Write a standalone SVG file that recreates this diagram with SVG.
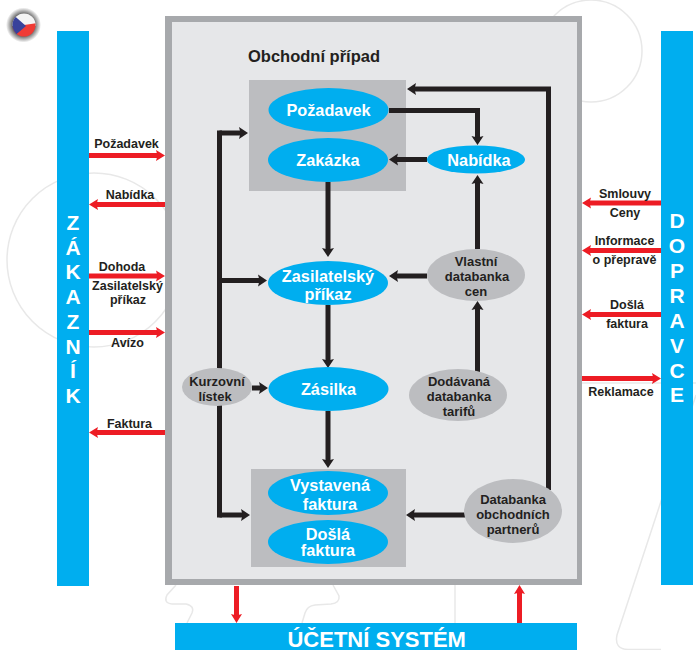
<svg xmlns="http://www.w3.org/2000/svg" width="696" height="650" viewBox="0 0 696 650">
<style>
text{font-family:"Liberation Sans",Arial,sans-serif;font-weight:bold;text-anchor:middle}
.bg{fill:none;stroke:#e8e8e8;stroke-width:1.5}
.bar{fill:#00aeef}
.v{fill:#fff;font-size:21px}
.blue{fill:#00aeef}
.grey{fill:#bcbdc0}
.nb{fill:#fff;font-size:16.300px}
.ng{fill:#231f20;font-size:13px}
.lb{fill:#231f20;font-size:12.500px}
.k{fill:none;stroke:#231f20;stroke-width:5;marker-end:url(#ah)}
.kn{fill:none;stroke:#231f20;stroke-width:5}
.r{fill:none;stroke:#ed1c24;stroke-width:5;marker-end:url(#rh)}
</style>
<defs>
<marker id="ah" markerUnits="userSpaceOnUse" markerWidth="10" markerHeight="13" viewBox="0 0 10 13" refX="3" refY="6.5" orient="auto"><path d="M0 .5L9 6.5L0 12.5L1.5 6.5Z" fill="#231f20"/></marker>
<marker id="rh" markerUnits="userSpaceOnUse" markerWidth="10" markerHeight="13" viewBox="0 0 10 13" refX="3" refY="6.5" orient="auto"><path d="M0 1L9 6.5L0 12L1.5 6.5Z" fill="#ed1c24"/></marker>
<radialGradient id="halo"><stop offset=".6" stop-color="#555"/><stop offset=".75" stop-color="#999"/><stop offset="1" stop-color="#fff"/></radialGradient>
<clipPath id="fc"><circle cx="24" cy="25" r="11.500"/></clipPath>
<filter id="soft" x="-20%" y="-20%" width="140%" height="140%"><feGaussianBlur stdDeviation="0.5"/></filter>
</defs>
<g id="background">
<circle class="bg" cx="94" cy="260" r="87"/>
<circle class="bg" cx="591" cy="51" r="51"/>
<path class="bg" d="M176 585L167 595Q163 603 172 604L186 604Q195 606 192 613L187 623"/>
<path class="bg" d="M333 585L339 596Q340 603 331 604L315 605Q307 606 305 613L302 623"/>
<path class="bg" d="M455 585V623"/>
<path class="bg" d="M582 383H696"/>
<path class="bg" d="M696 395L617 635Q614 649 628 649.500H661"/>
</g>
<g id="flag" filter="url(#soft)">
<circle cx="23.500" cy="25" r="17.500" fill="url(#halo)"/>
<g clip-path="url(#fc)">
<rect x="11" y="13" width="26" height="13" fill="#f4f4f4"/>
<path d="M11 27L37 23V38H11Z" fill="#ef3b36"/>
<path d="M11 13L26 26L12 38Z" fill="#39429b"/>
</g>
</g>
<g id="zakaznik">
<rect class="bar" x="57" y="31" width="32" height="555"/>
<text class="v" x="73" y="230">Z</text><text class="v" x="73" y="255">Á</text><text class="v" x="73" y="279">K</text><text class="v" x="73" y="304">A</text><text class="v" x="73" y="329">Z</text><text class="v" x="73" y="354">N</text><text class="v" x="73" y="378">Í</text><text class="v" x="73" y="403">K</text>
</g>
<g id="dopravce">
<rect class="bar" x="661" y="31" width="32" height="554"/>
<text class="v" x="677" y="228">D</text><text class="v" x="677" y="253">O</text><text class="v" x="677" y="278">P</text><text class="v" x="677" y="303">R</text><text class="v" x="677" y="328">A</text><text class="v" x="677" y="353">V</text><text class="v" x="677" y="378">C</text><text class="v" x="677" y="402">E</text>
</g>
<g id="ucetni-system">
<rect class="bar" x="175" y="623" width="402" height="27"/>
<text x="376.700" y="646.500" fill="#fff" font-size="22">ÚČETNÍ SYSTÉM</text>
</g>
<g id="obchodni-pripad">
<rect x="165" y="16" width="417" height="569" fill="#a7a9ac"/>
<rect x="172" y="22" width="405" height="557" fill="#e6e7e9"/>
<text x="314" y="62" fill="#231f20" font-size="16.500">Obchodní případ</text>
</g>
<g id="box-top"><rect class="grey" x="249" y="80" width="157" height="111"/></g>
<g id="box-bottom"><rect class="grey" x="251" y="469" width="155" height="98"/></g>
<g id="connectors">
<path class="k" d="M389 110.500H477.500V139"/>
<path class="k" d="M427 159.500H395"/>
<path class="k" d="M477.500 249V181"/>
<path class="k" d="M427 276H395"/>
<path class="k" d="M328 182V251"/>
<path class="k" d="M328 305V362"/>
<path class="k" d="M328 411V462"/>
<path class="k" d="M477.500 372V307"/>
<path class="k" d="M465 515H412"/>
<path class="k" d="M548.500 490V89H413"/>
<path class="k" d="M219.500 515H244"/>
<path class="k" d="M219.500 133H242"/>
<path class="kn" d="M219.500 130.500V517.500"/>
<path class="k" d="M219.500 280.500H261"/>
<path class="k" d="M252 388H262"/>
<path class="r" d="M89 155.500H159"/>
<path class="r" d="M165 204.500H95"/>
<path class="r" d="M89 276H159"/>
<path class="r" d="M89 332.500H159"/>
<path class="r" d="M165 432.500H95"/>
<path class="r" d="M661 203H588"/>
<path class="r" d="M661 250.500H588"/>
<path class="r" d="M661 314.500H588"/>
<path class="r" d="M582 378.500H655"/>
<path class="r" d="M236.500 586V617"/>
<path class="r" d="M519.500 623V591"/>
</g>
<g id="labels">
<text class="lb" x="126.500" y="148">Požadavek</text>
<text class="lb" x="130" y="199">Nabídka</text>
<text class="lb" x="122" y="271">Dohoda</text>
<text class="lb" x="127.500" y="290">Zasilatelský</text>
<text class="lb" x="128" y="304">příkaz</text>
<text class="lb" x="127.500" y="347">Avízo</text>
<text class="lb" x="129.500" y="428">Faktura</text>
<text class="lb" x="625" y="198">Smlouvy</text>
<text class="lb" x="625" y="217">Ceny</text>
<text class="lb" x="624.500" y="245">Informace</text>
<text class="lb" x="624.500" y="264">o přepravě</text>
<text class="lb" x="627" y="309">Došlá</text>
<text class="lb" x="627" y="328">faktura</text>
<text class="lb" x="621" y="396">Reklamace</text>
</g>
<g id="pozadavek"><ellipse class="blue" cx="328.500" cy="110" rx="60" ry="22"/><text class="nb" x="328.500" y="116">Požadavek</text></g>
<g id="zakazka"><ellipse class="blue" cx="328" cy="160" rx="60" ry="22"/><text class="nb" x="328" y="165.500">Zakázka</text></g>
<g id="nabidka"><ellipse class="blue" cx="476" cy="159.500" rx="49" ry="14"/><text class="nb" x="479" y="166">Nabídka</text></g>
<g id="zasilatelsky-prikaz"><ellipse class="blue" cx="328" cy="283" rx="60" ry="22"/><text class="nb" x="328" y="282">Zasilatelský</text><text class="nb" x="328" y="300">příkaz</text></g>
<g id="vlastni-databanka"><ellipse class="grey" cx="476" cy="275" rx="49" ry="26"/><text class="ng" x="476" y="266">Vlastní</text><text class="ng" x="477" y="281">databanka</text><text class="ng" x="476" y="296">cen</text></g>
<g id="kurzovni-listek"><ellipse class="grey" cx="217" cy="387" rx="35" ry="19"/><text class="ng" x="217" y="386">Kurzovní</text><text class="ng" x="215" y="401">lístek</text></g>
<g id="zasilka"><ellipse class="blue" cx="328.500" cy="389" rx="60" ry="22"/><text class="nb" x="328.500" y="395">Zásilka</text></g>
<g id="dodavana-databanka"><ellipse class="grey" cx="458" cy="395" rx="49" ry="26"/><text class="ng" x="459" y="386">Dodávaná</text><text class="ng" x="459" y="401">databanka</text><text class="ng" x="459" y="416">tarifů</text></g>
<g id="vystavena-faktura"><ellipse class="blue" cx="328" cy="493" rx="60" ry="22"/><text class="nb" x="330" y="491">Vystavená</text><text class="nb" x="330" y="510">faktura</text></g>
<g id="dosla-faktura"><ellipse class="blue" cx="328" cy="542" rx="60" ry="22"/><text class="nb" x="328" y="540">Došlá</text><text class="nb" x="328" y="556">faktura</text></g>
<g id="databanka-partneru"><ellipse class="grey" cx="513" cy="511" rx="49" ry="32"/><text class="ng" x="513" y="504">Databanka</text><text class="ng" x="513" y="519">obchodních</text><text class="ng" x="513" y="534">partnerů</text></g>
</svg>
